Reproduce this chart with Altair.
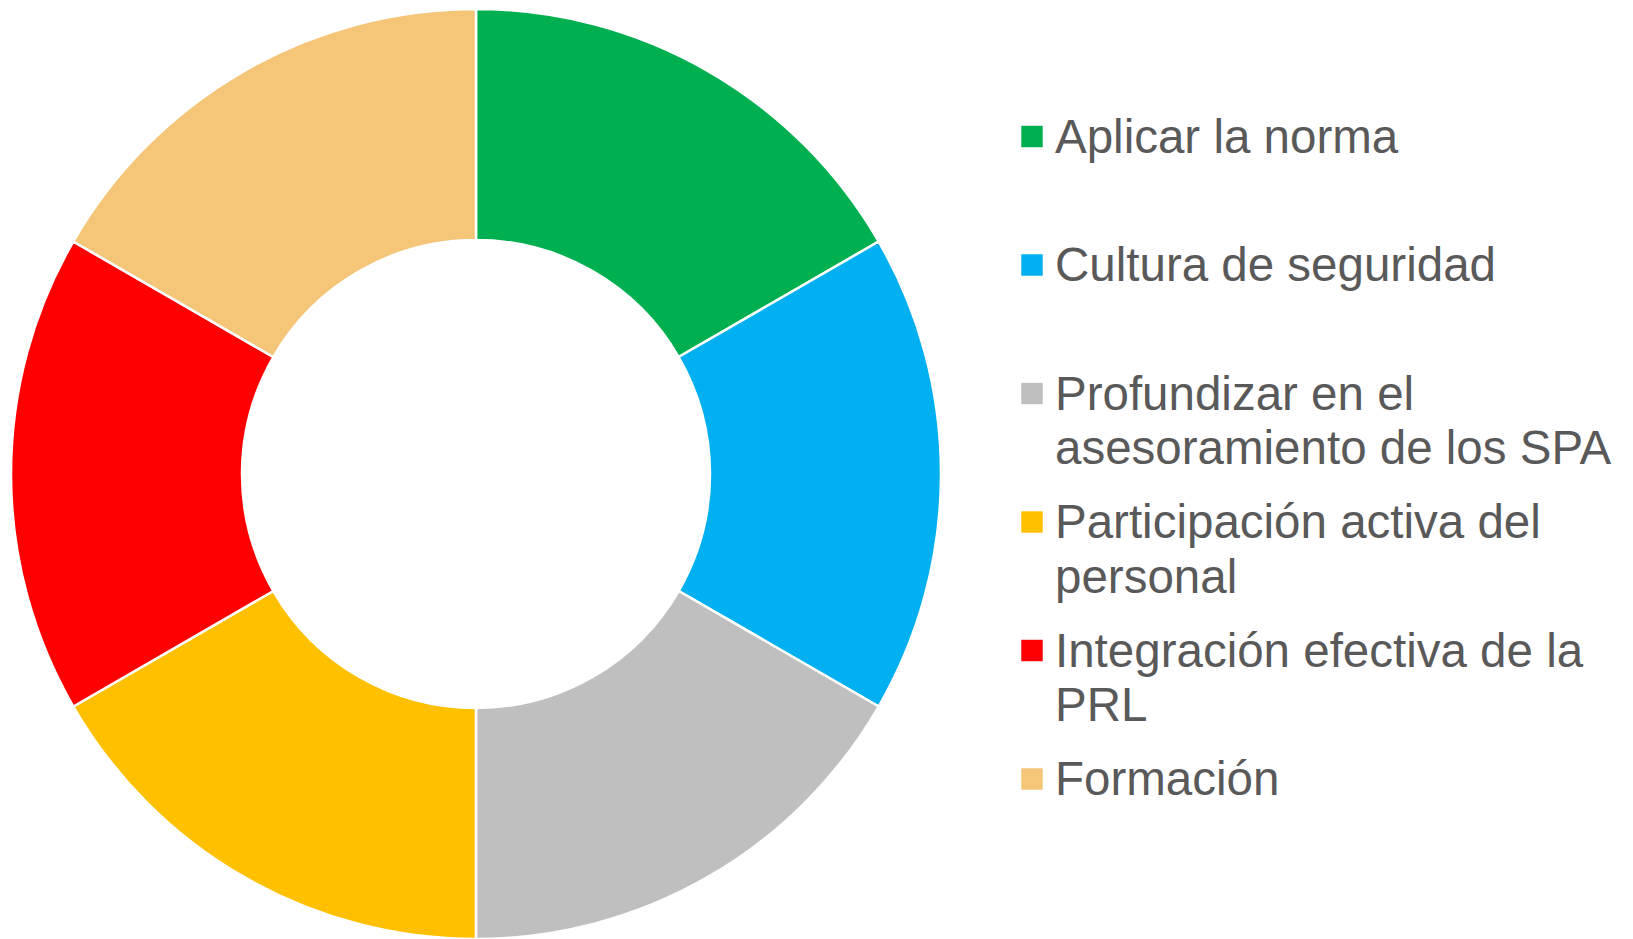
import altair as alt
import pandas as pd

categories = [
    "Aplicar la norma",
    "Cultura de seguridad",
    "Profundizar en el asesoramiento de los SPA",
    "Participación activa del personal",
    "Integración efectiva de la PRL",
    "Formación",
]
legend_labels = [
    "Aplicar la norma",
    "Cultura de seguridad",
    "Profundizar en el\nasesoramiento de los SPA",
    "Participación activa del\npersonal",
    "Integración efectiva de la\nPRL",
    "Formación",
]
values = [1, 1, 1, 1, 1, 1]
colors = ["#00B050", "#00B0F0", "#BFBFBF", "#FFC000", "#FF0000", "#F5C578"]

df = pd.DataFrame({
    "categoria": categories,
    "etiqueta": legend_labels,
    "valor": values,
    "orden": list(range(len(categories))),
})

color = alt.Color("categoria:N", scale=alt.Scale(domain=categories, range=colors), legend=None)

donut = alt.Chart(df).mark_arc(stroke="white", strokeWidth=2.5).encode(
    theta=alt.Theta("valor:Q", stack=True),
    order=alt.Order("orden:Q"),
    color=color,
    x=alt.value(476),
    y=alt.value(474),
    radius=alt.value(465),
    radius2=alt.value(234),
)

ypos = alt.Y("categoria:N", sort=categories,
             scale=alt.Scale(type="point", range=[136.5, 779], padding=0), axis=None)

squares = alt.Chart(df).mark_square(size=460, opacity=1).encode(
    x=alt.value(1032),
    y=ypos,
    color=color,
)

texts = alt.Chart(df).mark_text(
    align="left", baseline="alphabetic", dy=16, fontSize=47.5,
    font="Liberation Sans", color="#595959", lineBreak="\n", lineHeight=54.5,
).encode(
    x=alt.value(1055),
    y=ypos,
    text="etiqueta:N",
)

chart = alt.layer(donut, squares, texts).properties(
    width=1633, height=939, autosize=alt.AutoSizeParams(type="none"), padding=0,
).configure_view(stroke=None)

chart.save("out.html", embed_options={"renderer": "svg", "actions": False})
